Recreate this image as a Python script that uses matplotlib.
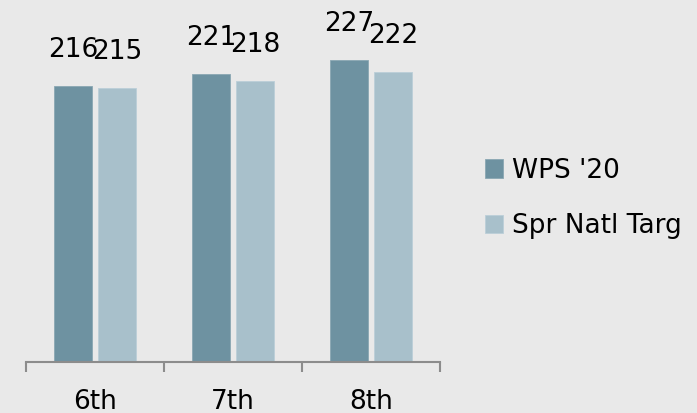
import matplotlib
matplotlib.use("Agg")
import matplotlib.pyplot as plt
import numpy as np

grades = ["6th", "7th", "8th"]
wps_20 = [216, 221, 227]
spr_natl_targ = [215, 218, 222]
series_names = ["WPS '20", "Spr Natl Targ"]

dark = "#6e92a1"
light = "#a8c0cb"
bg = "#e9e9e9"

W, H = 697, 413
fig = plt.figure(figsize=(W / 100, H / 100), dpi=100, facecolor=bg)
# axes placed in pixel terms: baseline at y=361.7, categories 26..440
ax = fig.add_axes([26 / W, 51.3 / H, 414 / W, 355.1 / H])
ax.set_facecolor("none")

x = np.arange(len(grades))
bw = 0.27
off = 0.16
b1 = ax.bar(x - off, wps_20, bw, color=dark, edgecolor="#8aa7b3", linewidth=0.6, label=series_names[0])
b2 = ax.bar(x + off, spr_natl_targ, bw, color=light, edgecolor="#bccfd8", linewidth=0.6, label=series_names[1])
ax.set_ylim(98, 250)
ax.set_xlim(-0.5, 2.5)

fs = 19
for bars, vals in ((b1, wps_20), (b2, spr_natl_targ)):
    for r, v in zip(bars, vals):
        ax.annotate(str(v), (r.get_x() + r.get_width() / 2, v), xytext=(0, 21),
                    textcoords="offset points", ha="center", va="baseline",
                    fontsize=fs, color="black")

for s in ["top", "right", "left"]:
    ax.spines[s].set_visible(False)
ax.spines["bottom"].set_color("#8c8c8c")
ax.spines["bottom"].set_linewidth(1.5)
ax.set_yticks([])

ax.set_xticks([-0.5, 0.5, 1.5, 2.5])
ax.set_xticklabels([])
ax.tick_params(axis="x", which="major", direction="out", length=7, width=1.5, color="#8c8c8c")
ax.set_xticks(x, minor=True)
ax.set_xticklabels(grades, minor=True, fontsize=fs)
ax.tick_params(axis="x", which="minor", length=0, pad=20)

fig.legend(handles=[b1, b2], labels=series_names, loc="center left",
           bbox_to_anchor=(485 / W, 214.5 / H), frameon=False, fontsize=fs,
           handlelength=0.68, handleheight=0.68, handletextpad=0.34,
           labelspacing=1.12, borderpad=0, borderaxespad=0)

fig.savefig("out.png", dpi=100, facecolor=bg)
